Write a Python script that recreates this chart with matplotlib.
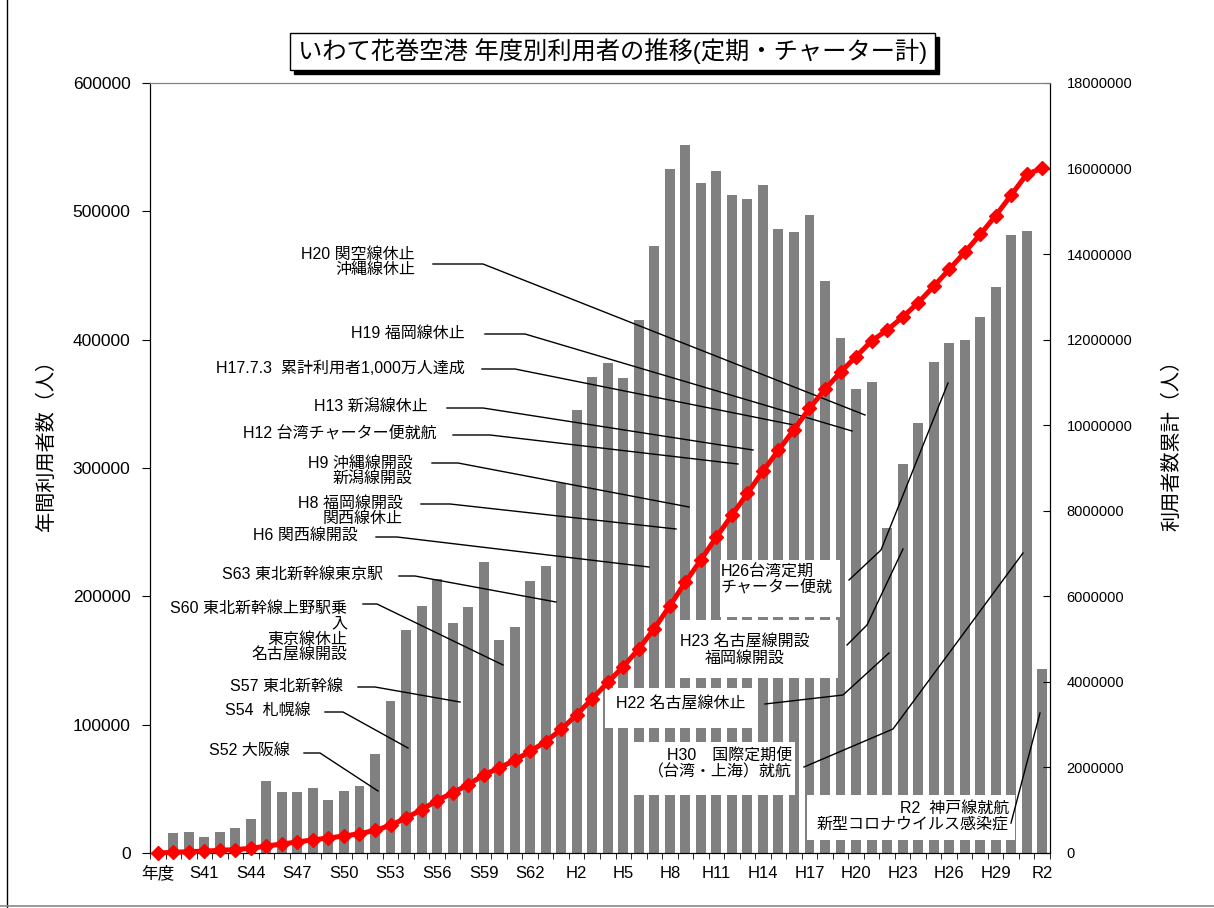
"""いわて花巻空港 年度別利用者の推移 (bar + cumulative line)."""
import numpy as np
import matplotlib
matplotlib.use("Agg")
import matplotlib.pyplot as plt
from matplotlib.patches import Rectangle
from matplotlib.ticker import FuncFormatter

plt.rcParams["font.family"] = ["Liberation Sans", "Noto Sans CJK JP"]

W, H = 1214, 908

# fiscal years S38 .. R2
years = ([f"S{i}" for i in range(38, 64)] + [f"H{i}" for i in range(1, 31)]
         + ["R1", "R2"])
tick_labels = ["年度", "S41", "S44", "S47", "S50", "S53", "S56", "S59", "S62",
               "H2", "H5", "H8", "H11", "H14", "H17", "H20", "H23", "H26", "H29", "R2"]

# annual passengers
annual = [0, 15300, 16600, 12700, 16600, 19700, 26200,                              # S38-S44
          56400, 47300, 47300, 50600, 41300, 48500, 52200, 77100, 118700,           # S45-S53
          173800, 192700, 213500, 179000, 191500, 226500, 166000, 176300, 212200, 223600,  # S54-S63
          288300, 345200, 371100, 381600, 369900, 415300, 473200, 532700, 551400, 522100,  # H1-H10
          531700, 513000, 509800, 520300, 486000, 484200, 497400, 445500, 401500, 361600,  # H11-H20
          367300, 253000, 303100, 334800, 382900, 397200, 399500, 417400, 440800, 481600,  # H21-H30
          484900, 143000]                                                            # R1-R2
# cumulative passengers = running total of the annual figures
cumulative = np.cumsum(annual)

# event notes: (text, ha, anchor px, leader px points, white box px or None)
notes = [
    ("H20 関空線休止\n沖縄線休止", "right", (415, 262), [(433, 264), (483, 264), (865, 415)], None),
    ("H19 福岡線休止", "right", (465, 333), [(485, 334), (525, 334), (852, 431)], None),
    ("H17.7.3  累計利用者1,000万人達成", "right", (465, 368), [(482, 369), (515, 369), (799, 426)], None),
    ("H13 新潟線休止", "right", (428, 407), [(447, 408), (483, 408), (753, 450)], None),
    ("H12 台湾チャーター便就航", "right", (437, 434), [(453, 435), (490, 435), (738, 464)], None),
    ("H9 沖縄線開設\n新潟線開設", "right", (413, 471), [(432, 463), (458, 463), (689, 507)], None),
    ("H8 福岡線開設\n関西線休止", "right", (403, 511), [(421, 504), (450, 504), (676, 529)], None),
    ("H6 関西線開設", "right", (358, 535), [(376, 537), (397, 537), (649, 567)], None),
    ("S63 東北新幹線東京駅", "right", (383, 574), [(399, 576), (415, 576), (556, 602)], None),
    ("S60 東北新幹線上野駅乗\n入\n東京線休止\n名古屋線開設", "right", (347, 632),
     [(363, 604), (377, 604), (503, 665)], None),
    ("S57 東北新幹線", "right", (343, 686), [(358, 687), (375, 687), (460, 702)], None),
    ("S54  札幌線", "right", (311, 710), [(325, 712), (343, 712), (408, 748)], None),
    ("S52 大阪線", "right", (290, 750), [(304, 753), (320, 753), (378, 791)], None),
    ("H26台湾定期\nチャーター便就", "left", (721, 580), [(849, 580), (881, 550), (948, 383)],
     (720, 560, 840, 617)),
    ("H23 名古屋線開設\n福岡線開設", "center", (745, 650), [(847, 645), (867, 625), (903, 549)],
     (677, 620, 838, 678)),
    ("H22 名古屋線休止", "center", (681, 704), [(765, 704), (843, 695), (889, 653)],
     (605, 688, 753, 728)),
    ("H30　国際定期便\n（台湾・上海）就航", "right", (792, 764), [(804, 767), (893, 729), (1023, 553)],
     (633, 742, 795, 795)),
    ("R2  神戸線就航\n新型コロナウイルス感染症", "right", (1009, 816), [(1011, 823), (1040, 713)],
     (807, 795, 1015, 840)),
]

AX_L, AX_R, AX_T, AX_B = 150, 1050, 83, 853


def P(px, py):
    """reference pixel -> axes fraction"""
    return (px - AX_L) / (AX_R - AX_L), (AX_B - py) / (AX_B - AX_T)


fig = plt.figure(figsize=(W / 100, H / 100), dpi=100)
ax = fig.add_axes([AX_L / W, 1 - AX_B / H, (AX_R - AX_L) / W, (AX_B - AX_T) / H])

x = np.arange(len(years))
ax.bar(x, annual, width=0.64, color="#808080", zorder=1)
ax.set_xlim(-0.5, len(years) - 0.5)
ax.set_ylim(0, 600000)
ax.set_yticks(range(0, 600001, 100000))
ax.yaxis.set_major_formatter(FuncFormatter(lambda v, p: f"{int(v)}"))
ax.tick_params(axis="y", direction="out", length=6, labelsize=12.5, pad=8)
ax.set_xticks(x[::3])
ax.set_xticklabels(tick_labels, fontsize=12)
ax.tick_params(axis="x", which="major", length=0, pad=9)
ax.set_xticks(np.arange(-0.5, len(years)), minor=True)
ax.tick_params(axis="x", which="minor", direction="out", length=4)

ax2 = ax.twinx()
ax2.plot(x, cumulative, color="red", lw=3.6, marker="D", ms=6.8, mec="red", zorder=5, clip_on=False)
ax2.set_ylim(0, 18000000)
ax2.set_yticks(range(0, 18000001, 2000000))
ax2.yaxis.set_major_formatter(FuncFormatter(lambda v, p: f"{int(v)}"))
ax2.tick_params(axis="y", direction="in", length=5, labelsize=10.5, pad=12)
for a in (ax, ax2):
    a.spines["top"].set_color("#808080")

# notes with leader lines
for text, ha, (tx, ty), pts, box in notes:
    if box is not None:
        x0, y0 = P(box[0], box[3])
        x1, y1 = P(box[2], box[1])
        ax.add_patch(Rectangle((x0, y0), x1 - x0, y1 - y0, transform=ax.transAxes,
                               facecolor="white", edgecolor="none", zorder=3))
    xs, ys = zip(*[P(px, py) for px, py in pts])
    ax.plot(xs, ys, color="black", lw=1, transform=ax.transAxes, zorder=4)
    ax.text(*P(tx, ty), text, transform=ax.transAxes, ha=ha, va="center",
            multialignment=ha, fontsize=11.5, linespacing=1.05, zorder=5)

# axis titles
fig.text(46 / W, 1 - 440 / H, "年間利用者数（人）", rotation=90, ha="center", va="center", fontsize=14.5)
fig.text(1172 / W, 1 - 440 / H, "利用者数累計（人）", rotation=90, ha="center", va="center", fontsize=14.5)

# title box with shadow
fig.add_artist(Rectangle((294 / W, 1 - 74 / H), 645 / W, 37 / H, transform=fig.transFigure,
                         facecolor="black", edgecolor="black"))
fig.add_artist(Rectangle((290 / W, 1 - 70 / H), 645 / W, 37 / H, transform=fig.transFigure,
                         facecolor="white", edgecolor="black", lw=1))
fig.text(612.5 / W, 1 - 51.5 / H, "いわて花巻空港 年度別利用者の推移(定期・チャーター計)",
         ha="center", va="center", fontsize=17.5)

# chart frame (left / bottom edges visible)
fig.add_artist(plt.Line2D([7 / W, 7 / W], [0, 1], color="black", lw=1, transform=fig.transFigure))
fig.add_artist(plt.Line2D([0, 1], [1 - 906 / H, 1 - 906 / H], color="#888888", lw=1.2,
                          transform=fig.transFigure))

fig.savefig("out.png", dpi=100)
